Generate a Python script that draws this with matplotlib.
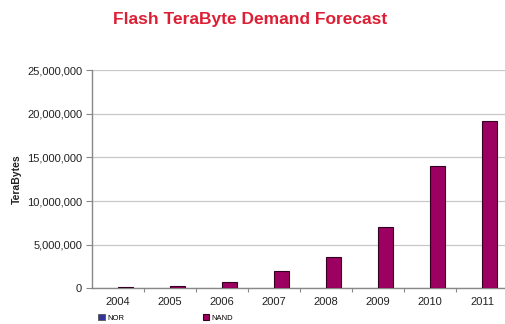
import matplotlib.pyplot as plt
from matplotlib.ticker import FuncFormatter
import numpy as np

years = ["2004", "2005", "2006", "2007", "2008", "2009", "2010", "2011"]
nor_tb = [60000, 40000, 50000, 70000, 60000, 70000, 90000, 100000]
nand_tb = [150000, 300000, 750000, 2000000, 3550000, 7000000, 14000000, 19200000]

plt.rcParams['font.family'] = ['Liberation Sans', 'DejaVu Sans']

fig = plt.figure(figsize=(5.05, 3.24), dpi=100)
ax = fig.add_axes([0.182, 0.1096, 0.824, 0.674])

x = np.arange(len(years))
w = 0.29
nor_bars = ax.bar(x - w / 2, nor_tb, w, color="#333399", edgecolor="#555555", linewidth=0.6, label="NOR", zorder=3)
nand_bars = ax.bar(x + w / 2, nand_tb, w, color="#9c0060", edgecolor="#330022", linewidth=0.8, label="NAND", zorder=3)

ax.set_xlim(-0.5, len(years) - 0.5)
ax.set_ylim(0, 25000000)
ax.set_yticks(np.arange(0, 25000001, 5000000))
ax.yaxis.set_major_formatter(FuncFormatter(lambda v, p: f"{int(v):,}"))
ax.tick_params(axis="y", labelsize=8, colors="#888888", labelcolor="#222222", length=4, width=0.8, pad=3)

# category labels centred, tick marks between categories
ax.set_xticks(x)
ax.set_xticklabels(years)
ax.set_xticks(np.arange(0.5, len(years) - 0.5, 1), minor=True)
ax.tick_params(axis="x", which="major", length=0, labelsize=8, labelcolor="#222222", pad=6)
ax.tick_params(axis="x", which="minor", length=3, width=0.8, colors="#888888")

ax.grid(axis="y", color="#c8c8c8", linewidth=0.9, zorder=0)
for s in ["top", "right"]:
    ax.spines[s].set_visible(False)
for s in ["left", "bottom"]:
    ax.spines[s].set_color("#888888")
    ax.spines[s].set_linewidth(1.0)

ax.set_ylabel("TeraBytes", fontsize=7.5, fontweight="bold", color="#222222", labelpad=4)

fig.text(0.495, 0.94, "Flash TeraByte Demand Forecast", ha="center", va="center",
         fontsize=12.5, fontweight="bold", color="#dd1f35")

fig.legend(handles=[nor_bars, nand_bars], loc="center left", bbox_to_anchor=(0.195, 0.018),
           ncol=2, frameon=False, fontsize=5.5, handlelength=0.8, handleheight=0.8,
           handletextpad=0.3, columnspacing=10.4, borderpad=0, borderaxespad=0)

fig.savefig("out.png", dpi=100)
